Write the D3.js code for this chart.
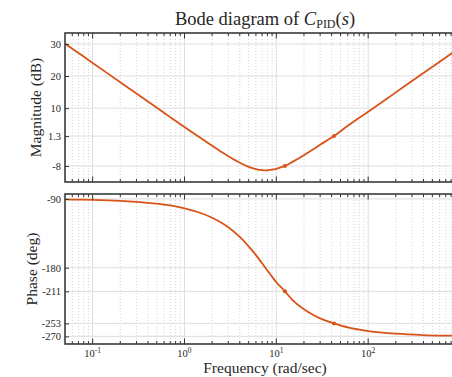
<!DOCTYPE html>
<html>
<head>
<meta charset="utf-8">
<script src="https://cdn.jsdelivr.net/npm/d3@7"></script>
<style>
  body { margin: 0; background: #fff; }
  text { font-family: "Liberation Serif", "DejaVu Serif", serif; fill: #262626; }
</style>
</head>
<body>
<div id="main"></div>
<script>
// values
var freqs = [0.05, 0.07, 0.1, 0.2, 0.3, 0.5, 0.7, 1, 1.5, 2, 2.5, 3, 4, 5, 6, 7, 8, 9, 10, 12.4, 15, 20, 25, 30, 42.5, 60, 100, 200, 400, 800, 1000];
var magDb = [30.1, 27.18, 24.08, 18.06, 14.54, 10.11, 7.2, 4.13, 0.67, -1.74, -3.56, -4.98, -7.01, -8.29, -9.01, -9.33, -9.35, -9.18, -8.88, -8.0, -6.74, -4.66, -2.89, -1.4, 1.3, 4.49, 8.9, 14.91, 20.92, 26.94, 28.88];
var phaseDeg = [-90.6, -90.9, -91.2, -92.4, -93.7, -96.1, -98.5, -102.2, -108.4, -114.6, -120.8, -127.1, -139.7, -152.0, -163.6, -174.3, -183.8, -192.0, -199.1, -211, -222.4, -234.5, -241.7, -246.5, -253, -258.3, -263.0, -266.5, -268.3, -269.1, -269.3];

var markerFreqs = [12.4, 42.5];
var markerMag = [-8, 1.3];
var markerPhase = [-211, -253];

var magTicks = [-8, 1.3, 10, 20, 30];
var phaseTicks = [-270, -253, -211, -180, -90];
var decades = [0.1, 1, 10, 100];
var decadeExp = ["-1", "0", "1", "2"];

var W = 452, H = 377;
var lineColor = "#D95319";

var x = d3.scaleLog().domain([0.05, 1000]).range([65, 460]);

var panels = [
  { key: "mag", top: 33, bottom: 182, domain: [-13, 33.4], ticks: magTicks, values: magDb, marks: markerMag, label: "Magnitude (dB)", labelX: 36 },
  { key: "phase", top: 194, bottom: 344, domain: [-280, -83.5], ticks: phaseTicks, values: phaseDeg, marks: markerPhase, label: "Phase (deg)", labelX: 32 }
];

var svg = d3.select("#main").append("svg")
  .attr("width", W)
  .attr("height", H)
  .style("display", "block");

// minor ticks 2..9 of each decade inside the domain
var minors = [];
[0.01, 0.1, 1, 10, 100].forEach(function (d) {
  for (var k = 2; k <= 9; k++) {
    var v = d * k;
    if (v > 0.05 && v < 1000) minors.push(v);
  }
});

panels.forEach(function (p, pi) {
  var y = d3.scaleLinear().domain(p.domain).range([p.bottom, p.top]);
  var g = svg.append("g").attr("class", "panel-" + p.key);

  g.append("clipPath").attr("id", "clip" + pi)
    .append("rect")
    .attr("x", x.range()[0]).attr("y", p.top)
    .attr("width", x.range()[1] - x.range()[0]).attr("height", p.bottom - p.top);

  // grid
  g.selectAll(".minor-grid").data(minors).enter().append("line")
    .attr("x1", function (d) { return x(d); }).attr("x2", function (d) { return x(d); })
    .attr("y1", p.top).attr("y2", p.bottom)
    .attr("stroke", "#c8c8c8").attr("stroke-width", 0.8).attr("stroke-dasharray", "1,2");
  g.selectAll(".major-grid").data(decades).enter().append("line")
    .attr("x1", function (d) { return x(d); }).attr("x2", function (d) { return x(d); })
    .attr("y1", p.top).attr("y2", p.bottom)
    .attr("stroke", "#dedede").attr("stroke-width", 1);
  g.selectAll(".h-grid").data(p.ticks).enter().append("line")
    .attr("x1", x.range()[0]).attr("x2", x.range()[1])
    .attr("y1", function (d) { return y(d); }).attr("y2", function (d) { return y(d); })
    .attr("stroke", "#dedede").attr("stroke-width", 1);

  // curve
  var pts = freqs.map(function (f, i) { return [f, p.values[i]]; });
  var line = d3.line()
    .x(function (d) { return x(d[0]); })
    .y(function (d) { return y(d[1]); })
    .curve(d3.curveCatmullRom.alpha(0.5));
  g.append("path")
    .datum(pts)
    .attr("clip-path", "url(#clip" + pi + ")")
    .attr("fill", "none")
    .attr("stroke", lineColor)
    .attr("stroke-width", 1.8)
    .attr("d", line);

  g.selectAll(".marker").data(markerFreqs).enter().append("circle")
    .attr("cx", function (d) { return x(d); })
    .attr("cy", function (d, i) { return y(p.marks[i]); })
    .attr("r", 2)
    .attr("fill", lineColor);

  // x ticks, inward on top and bottom edges
  [[p.top, 1], [p.bottom, -1]].forEach(function (e) {
    g.selectAll(null).data(minors).enter().append("line")
      .attr("x1", function (d) { return x(d); }).attr("x2", function (d) { return x(d); })
      .attr("y1", e[0]).attr("y2", e[0] + e[1] * 3)
      .attr("stroke", "#333").attr("stroke-width", 1);
    g.selectAll(null).data(decades).enter().append("line")
      .attr("x1", function (d) { return x(d); }).attr("x2", function (d) { return x(d); })
      .attr("y1", e[0]).attr("y2", e[0] + e[1] * 5.5)
      .attr("stroke", "#333").attr("stroke-width", 1);
  });

  // y axis
  var yAxis = d3.axisLeft(y).tickValues(p.ticks).tickSizeInner(-4).tickSizeOuter(0).tickPadding(4)
    .tickFormat(function (d) { return String(d).replace("\u2212", "-"); });
  var ay = g.append("g").attr("transform", "translate(" + x.range()[0] + ",0)").call(yAxis);
  ay.select(".domain").remove();
  ay.selectAll(".tick line").attr("stroke", "#333");
  ay.selectAll(".tick text")
    .style("font-family", "'Liberation Serif', serif")
    .style("font-size", "10.5px")
    .attr("fill", "#262626");

  // frame
  g.append("rect")
    .attr("x", x.range()[0]).attr("y", p.top)
    .attr("width", x.range()[1] - x.range()[0]).attr("height", p.bottom - p.top)
    .attr("fill", "none").attr("stroke", "#3a3a3a").attr("stroke-width", 1.6);

  svg.append("text")
    .attr("transform", "translate(" + p.labelX + "," + ((p.top + p.bottom) / 2) + ") rotate(-90)")
    .attr("text-anchor", "middle")
    .attr("dy", "0.35em")
    .style("font-size", "15.5px")
    .text(p.label);
});

// x tick labels under the bottom panel
var xl = svg.selectAll(".xlab").data(decades).enter().append("text")
  .attr("x", function (d) { return x(d); })
  .attr("y", 357)
  .attr("text-anchor", "middle")
  .style("font-size", "10.5px");
xl.append("tspan").text("10");
xl.append("tspan").attr("dy", -4).style("font-size", "7.5px").text(function (d, i) { return decadeExp[i]; });

svg.append("text")
  .attr("x", 265).attr("y", 373)
  .attr("text-anchor", "middle")
  .style("font-size", "15.5px")
  .text("Frequency (rad/sec)");

// title
var title = svg.append("text")
  .attr("x", 265).attr("y", 25)
  .attr("text-anchor", "middle")
  .style("font-size", "18.5px");
title.append("tspan").text("Bode diagram of ");
title.append("tspan").style("font-style", "italic").text("C");
title.append("tspan").attr("dy", 3).style("font-size", "12px").text("PID");
title.append("tspan").attr("dy", -3).text("(");
title.append("tspan").style("font-style", "italic").text("s");
title.append("tspan").text(")");
</script>
</body>
</html>
